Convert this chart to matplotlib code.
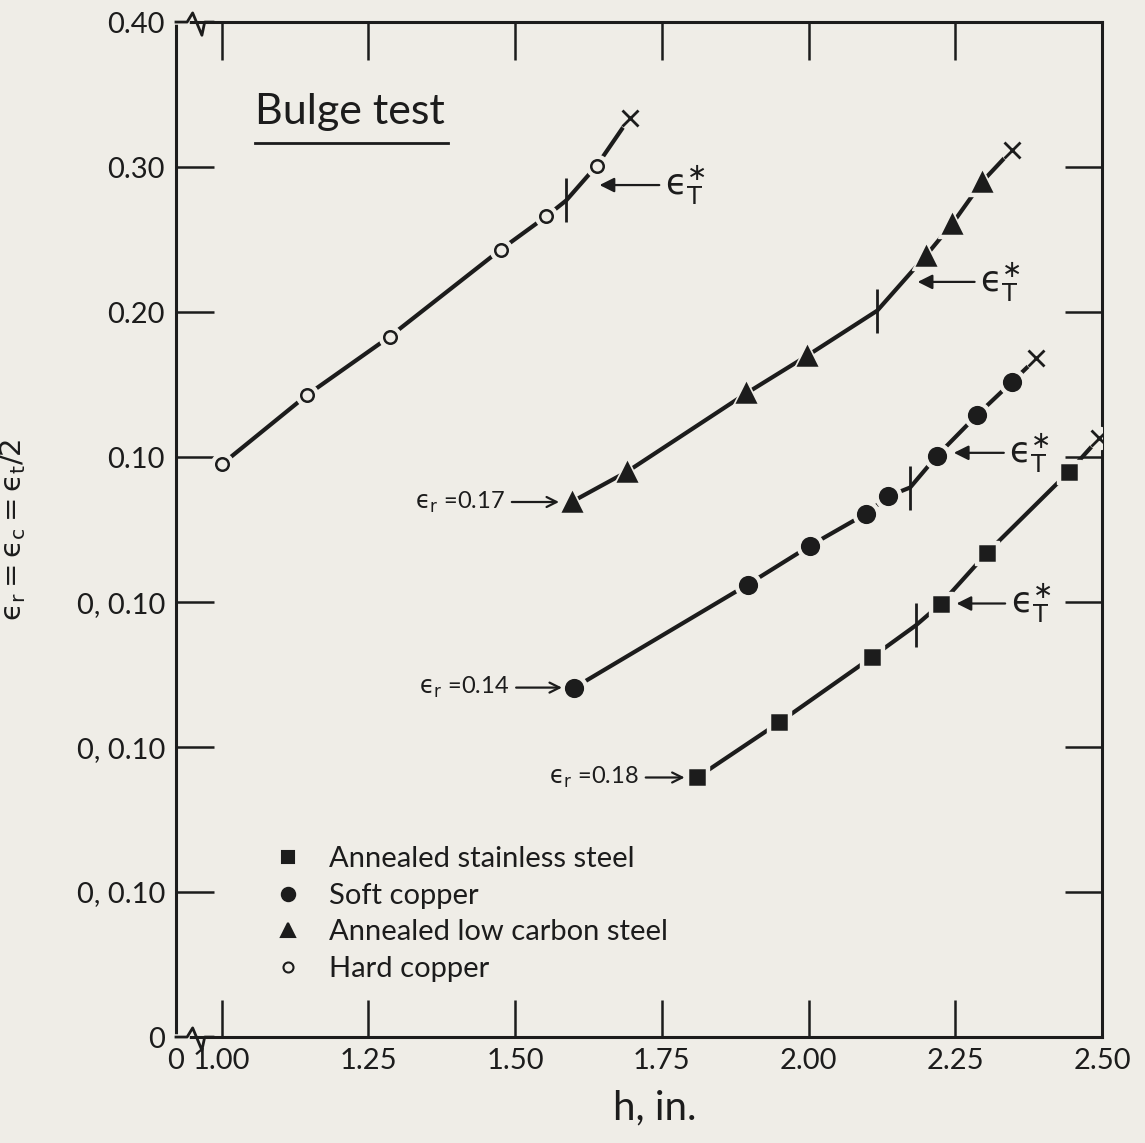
import matplotlib.pyplot as plt
import matplotlib.transforms as mtransforms
from matplotlib.lines import Line2D

fond = "#efede7"
encre = "#1c1c1c"

plt.rcParams["font.family"] = ["Lato", "DejaVu Sans"]
plt.rcParams["mathtext.fontset"] = "dejavusans"

# h (in.) et ordonnee (echelles decalees, 0.10 par division)
hDurH = [1.000, 1.146, 1.286, 1.475, 1.553, 1.639]
hDurE = [0.395, 0.443, 0.483, 0.543, 0.566, 0.601]
hDurTransition = (1.587, 0.577)
hDurRupture = (1.695, 0.634)

acierDouxH = [1.596, 1.691, 1.894, 1.998, 2.200, 2.245, 2.296]
acierDouxE = [0.369, 0.390, 0.444, 0.470, 0.539, 0.561, 0.590]
acierDouxTransition = (2.117, 0.501)
acierDouxRupture = (2.347, 0.612)

cuivreMouH = [1.601, 1.896, 2.003, 2.098, 2.136, 2.219, 2.287, 2.347]
cuivreMouE = [0.241, 0.312, 0.339, 0.361, 0.373, 0.401, 0.429, 0.452]
cuivreMouTransition = (2.173, 0.379)
cuivreMouRupture = (2.388, 0.468)

inoxH = [1.810, 1.950, 2.108, 2.226, 2.304, 2.444]
inoxE = [0.179, 0.217, 0.262, 0.299, 0.334, 0.390]
inoxTransition = (2.183, 0.284)
inoxRupture = (2.495, 0.413)

graduationsX = [0.922, 1.00, 1.25, 1.50, 1.75, 2.00, 2.25, 2.50]
etiquettesX = ["0", "1.00", "1.25", "1.50", "1.75", "2.00", "2.25", "2.50"]
graduationsY = [0.0, 0.1, 0.2, 0.3, 0.4, 0.5, 0.6, 0.7]
etiquettesY = ["0", "0, 0.10", "0, 0.10", "0, 0.10", "0.10", "0.20", "0.30", "0.40"]

series = [
    # nom, h, e, transition, rupture, marqueur, taille, plein, eps_r, indice fleche eps_T, decalage fleche
    ("Annealed stainless steel", inoxH, inoxE, inoxTransition, inoxRupture,
     "s", 10, True, "0.18", 3, (11, 0)),
    ("Soft copper", cuivreMouH, cuivreMouE, cuivreMouTransition, cuivreMouRupture,
     "o", 12, True, "0.14", 5, (12, 2)),
    ("Annealed low carbon steel", acierDouxH, acierDouxE, acierDouxTransition, acierDouxRupture,
     "^", 13, True, "0.17", 4, (-6, -19)),
    ("Hard copper", hDurH, hDurE, hDurTransition, hDurRupture,
     "o", 9, False, None, 5, (2, -14)),
]
decalageEpsR = {"0.18": 42, "0.14": 47, "0.17": 48}
decalageEpsT = {"0.18": 39, "0.14": 40, "0.17": 45, None: 47}

fig = plt.figure(figsize=(11.45, 11.43), dpi=100, facecolor=fond)
axe = fig.add_axes([0.1537, 0.0927, 0.8088, 0.8880], facecolor=fond)

poignees = []
for nom, h, e, trans, rupt, marq, taille, plein, epsR, iFleche, dec in series:
    sommets = sorted(list(zip(h, e)) + [trans, rupt])
    axe.plot([p[0] for p in sommets], [p[1] for p in sommets],
             color=encre, lw=3.0, solid_capstyle="butt", zorder=2)
    # halo couleur du fond autour des symboles (coupure du trait)
    axe.plot(h, e, ls="none", marker=marq, ms=taille + 7, mfc=fond, mec=fond, zorder=3)
    axe.plot(rupt[0], rupt[1], ls="none", marker="o", ms=16, mfc=fond, mec=fond, zorder=3)
    axe.plot(h, e, ls="none", marker=marq, ms=taille,
             mfc=encre if plein else fond, mec=encre, mew=1.8, zorder=4)
    axe.plot(rupt[0], rupt[1], ls="none", marker="x", ms=12, mec=encre, mew=2.0, zorder=4)
    axe.plot(trans[0], trans[1], ls="none", marker="|", ms=32, mec=encre, mew=2.0, zorder=5)

    poignees.append(Line2D([], [], ls="none", marker=marq, ms=taille * 0.8,
                           mfc=encre if plein else fond, mec=encre, mew=1.5, label=nom))

    if epsR is not None:
        axe.annotate(r"$\mathrm{ϵ}_\mathrm{r}$ =" + epsR, xy=(h[0], e[0]),
                     xytext=(-decalageEpsR[epsR], 0), textcoords="offset points",
                     ha="right", va="center", fontsize=17, color=encre,
                     arrowprops=dict(arrowstyle="->", lw=1.6, color=encre,
                                     shrinkA=3, shrinkB=9, mutation_scale=18))

    decalage = mtransforms.ScaledTranslation(dec[0] / 72, dec[1] / 72, fig.dpi_scale_trans)
    axe.annotate(r"$\mathrm{ϵ}_\mathrm{T}^{\ast}$", xy=(h[iFleche], e[iFleche]),
                 xycoords=axe.transData + decalage,
                 xytext=(decalageEpsT[epsR], 0), textcoords="offset points",
                 ha="left", va="center", fontsize=25, color=encre,
                 arrowprops=dict(arrowstyle="-|>", lw=1.6, color=encre,
                                 shrinkA=2, shrinkB=0, mutation_scale=22))

axe.set_xlim(graduationsX[0], 2.50)
axe.set_ylim(0, 0.7)
axe.set_xticks(graduationsX)
axe.set_xticklabels(etiquettesX)
axe.set_yticks(graduationsY)
axe.set_yticklabels(etiquettesY)
axe.tick_params(direction="in", length=27, width=1.8, color=encre, labelcolor=encre,
                labelsize=21, top=True, right=True, pad=8)
for cote in axe.spines.values():
    cote.set_linewidth(2.2)
    cote.set_color(encre)

# ruptures d'echelle sur les axes haut et bas
for yBase in [1.0, 0.0]:
    axe.plot([0.0, 0.012], [yBase, yBase], transform=axe.transAxes,
             color=fond, lw=4, clip_on=False, zorder=6)
    axe.plot([0.0, 0.012, 0.018, 0.028, 0.031, 0.040],
             [yBase, yBase, yBase + 0.009, yBase - 0.013, yBase, yBase],
             transform=axe.transAxes, color=encre, lw=2.0, clip_on=False, zorder=7)

axe.set_xlabel("h, in.", fontsize=29, color=encre)
axe.xaxis.set_label_coords(0.517, -0.052)
axe.set_ylabel(r"$\mathrm{ϵ}_\mathrm{r} = \mathrm{ϵ}_\mathrm{c} = \mathrm{ϵ}_\mathrm{t}/2$",
               fontsize=21, color=encre)
axe.yaxis.set_label_coords(-0.16, 0.5)

axe.text(0.0853, 0.911, "Bulge test", transform=axe.transAxes,
         fontsize=31, color=encre, ha="left", va="center")
axe.plot([0.0853, 0.2937], [0.881, 0.881], transform=axe.transAxes, color=encre, lw=2.0)

axe.legend(handles=poignees, loc="upper left", bbox_to_anchor=(0.105, 0.188),
           frameon=False, fontsize=21, handletextpad=0.9, labelspacing=0.36,
           borderpad=0, borderaxespad=0, handlelength=1.0, labelcolor=encre)

fig.savefig("out.png", dpi=100, facecolor=fond)
